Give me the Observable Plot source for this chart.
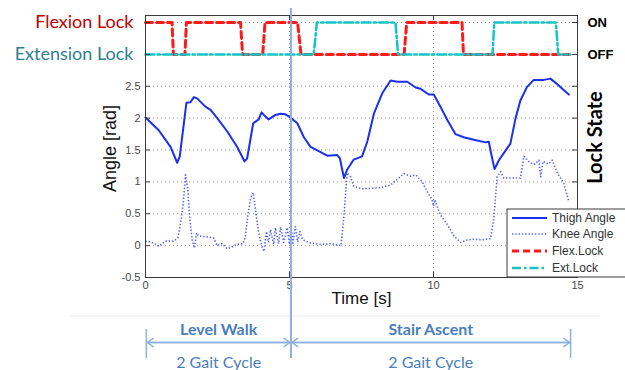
<!DOCTYPE html>
<html><head><meta charset="utf-8">
<script src="https://cdn.jsdelivr.net/npm/d3@7"></script>
<script src="https://cdn.jsdelivr.net/npm/@observablehq/plot@0.6"></script>
<style>body{margin:0;background:#fff} svg{display:block}</style>
</head><body><div id="chart"></div>
<script>
// ---- data ----
const thighT = [0,0.46,0.87,1.10,1.19,1.42,1.56,1.68,1.79,2.08,2.26,2.49,2.84,3.18,3.44,3.53,3.74,3.93,4.03,4.11,4.28,4.51,4.69,4.86,5.03,5.27,5.50,5.73,5.90,6.31,6.66,6.75,6.89,7.00,7.23,7.52,7.70,7.93,8.22,8.51,8.74,9.09,9.38,9.55,9.84,10.01,10.24,10.48,10.76,11.05,11.40,11.81,11.92,12.00,12.12,12.27,12.44,12.67,12.85,13.02,13.25,13.48,13.83,14.06,14.30,14.52,14.70];
const thighAngle = [2.01,1.81,1.55,1.30,1.40,2.24,2.25,2.33,2.31,2.18,2.13,2.00,1.79,1.55,1.32,1.37,1.92,1.98,2.09,2.05,1.98,2.05,2.07,2.06,2.01,1.92,1.70,1.55,1.51,1.41,1.42,1.37,1.06,1.19,1.35,1.40,1.63,2.07,2.39,2.59,2.57,2.57,2.48,2.46,2.37,2.37,2.18,1.97,1.75,1.70,1.66,1.62,1.63,1.45,1.20,1.34,1.45,1.60,2.00,2.28,2.49,2.60,2.60,2.62,2.53,2.44,2.37];
const kneeT = [0,0.06,0.29,0.46,0.69,0.98,1.12,1.22,1.31,1.39,1.47,1.54,1.62,1.70,1.77,1.85,2.08,2.37,2.49,2.66,2.84,3.01,3.18,3.39,3.47,3.55,3.65,3.74,3.82,3.93,4.03,4.11,4.20,4.27,4.34,4.45,4.51,4.62,4.69,4.80,4.92,5.00,5.06,5.12,5.20,5.28,5.36,5.45,5.55,5.73,6.08,6.42,6.79,6.89,7.00,7.12,7.23,7.52,8.16,8.51,8.74,8.97,9.20,9.38,9.61,9.78,9.95,10.00,10.05,10.12,10.24,10.48,10.71,10.94,11.17,11.40,11.69,11.98,12.09,12.21,12.33,12.44,13.02,13.14,13.31,13.48,13.66,13.72,13.80,14.00,14.12,14.30,14.52,14.70];
const kneeAngle = [0.06,0.07,0.04,-0.01,0.07,0.07,0.12,0.35,0.67,1.11,0.88,0.41,0.09,-0.04,0.20,0.15,0.14,0.12,0.00,0.03,-0.05,-0.02,0.02,0.03,0.15,0.46,0.75,0.83,0.56,0.20,0.00,-0.09,0.22,0.05,0.25,0.02,0.28,0.03,0.29,0.05,0.28,0.02,0.27,0.04,0.30,0.06,0.22,0.10,0.07,0.04,0.02,0.03,0.00,0.46,1.14,1.08,0.93,0.89,0.91,0.95,1.04,1.13,1.09,1.11,1.00,0.85,0.72,0.62,0.72,0.62,0.48,0.33,0.15,0.05,0.09,0.10,0.09,0.11,0.41,1.08,1.16,1.06,1.06,1.40,1.32,1.27,1.34,1.08,1.32,1.28,1.34,1.14,0.98,0.69];
const flexT = [0,0.92,0.97,1.37,1.42,3.30,3.37,4.07,4.15,5.28,5.40,8.98,9.07,10.99,11.04,14.69];
const flexState = [1,1,0,0,1,1,0,0,1,1,0,0,1,1,0,0];
const extT = [0,5.84,5.95,8.68,8.77,12.05,12.11,14.25,14.33,14.76];
const extState = [0,0,1,1,0,0,1,1,0,0];
const xTicks = [0,5,10,15];
const yTicks = [-0.5,0,0.5,1,1.5,2,2.5];
const lockTicks = [3,3.5];           // OFF, ON levels on the angle axis
const lockTickLabels = ["OFF","ON"];
const lockLabels = ["Flexion Lock","Extension Lock"];
const lockLabelLevel = [3.5,3];
const lockLabelColors = ["#c00000","#2f7f8c"];
const gridX = [5,10];
const gridY = [0,0.5,1,1.5,2,2.5,3,3.5];
const boundaryT = 5.05;
const phases = ["Level Walk","Stair Ascent"];
const phaseStart = [0.03,5.05];
const phaseEnd = [5.05,14.76];
const phaseNote = ["2 Gait Cycle","2 Gait Cycle"];
const seriesNames = ["Thigh Angle","Knee Angle","Flex.Lock","Ext.Lock"];

// ---- build tables ----
const thigh = thighT.map((t,i)=>({t, v: thighAngle[i]}));
const knee = kneeT.map((t,i)=>({t, v: kneeAngle[i]}));
const flex = flexT.map((t,i)=>({t, v: flexState[i] ? lockTicks[1] : lockTicks[0]}));
const ext = extT.map((t,i)=>({t, v: extState[i] ? lockTicks[1] : lockTicks[0]}));
const phaseRows = phases.map((p,i)=>({p, s: phaseStart[i], e: phaseEnd[i], m:(phaseStart[i]+phaseEnd[i])/2, note: phaseNote[i]}));
const yMin = -0.5, yMax = 3.61;

const W = 625, H = 370, mL = 145, mR = 48, mT = 15, mB = 93;
const fh = H - mT - mB, fw = W - mL - mR;

const C = {thigh:"#1a2ff0", knee:"#4b5cff", flex:"#ff1a1a", ext:"#14c4c4", grid:"#9a9a9a", axis:"#3a3a3a", anno:"#8fb0dc", annoText:"#4a7ebb"};

const plot = Plot.plot({
  width: W, height: H,
  marginLeft: mL, marginRight: mR, marginTop: mT, marginBottom: mB,
  x: {domain: [0,15], axis: null},
  y: {domain: [yMin, yMax], axis: null},
  style: {fontFamily: "'Liberation Sans', Arial, sans-serif", background: "#fff", overflow: "visible"},
  marks: [
    Plot.ruleY(gridY, {stroke: C.grid, strokeDasharray: "1,3", strokeWidth: 1}),
    Plot.ruleX(gridX, {stroke: C.grid, strokeDasharray: "1,3", strokeWidth: 1}),
    Plot.line(knee, {x:"t", y:"v", stroke: C.knee, strokeWidth: 1.6, strokeDasharray: "1.3,2", strokeLinecap:"butt"}),
    Plot.line(thigh, {x:"t", y:"v", stroke: C.thigh, strokeWidth: 2, curve: "linear"}),
    Plot.line(flex, {x:"t", y:"v", stroke: C.flex, strokeWidth: 3, strokeDasharray: "7,4"}),
    Plot.line(ext, {x:"t", y:"v", stroke: C.ext, strokeWidth: 2.5, strokeDasharray: "9,3,2.5,3"}),
    Plot.frame({stroke: C.axis, strokeWidth: 1}),
    // inward tick marks
    Plot.ruleX(xTicks, {stroke: C.axis, insetTop: fh - 5}),
    Plot.ruleX(xTicks, {stroke: C.axis, insetBottom: fh - 5}),
    Plot.ruleY(yTicks.concat(lockTicks), {stroke: C.axis, insetRight: fw - 5}),
    Plot.ruleY(yTicks.concat(lockTicks), {stroke: C.axis, insetLeft: fw - 5}),
    Plot.axisY(yTicks, {anchor: "left", tickSize: 0, tickPadding: 5, fontSize: 11, fill: "#4a4a4a", label: null, tickFormat: d => String(d)}),
    Plot.axisX(xTicks, {anchor: "bottom", tickSize: 0, tickPadding: 4, fontSize: 11, fill: "#4a4a4a", label: null, tickFormat: d => String(d)}),
    Plot.axisY(lockTicks, {anchor: "right", tickSize: 0, tickPadding: 10, fontSize: 13, fontWeight: "bold", fill: "#000", label: null, tickFormat: d => lockTickLabels[lockTicks.indexOf(d)]}),
    // axis titles
    Plot.text(["Time [s]"], {frameAnchor: "bottom", textAnchor: "middle", dy: 26, fontSize: 17, fill: "#111"}),
    Plot.text(["Angle [rad]"], {frameAnchor: "left", textAnchor: "middle", dx: -35, dy: 2, rotate: -90, fontSize: 18, fill: "#111"}),
    Plot.text(["Lock State"], {frameAnchor: "right", textAnchor: "middle", dx: 18, dy: -9, rotate: -90, fontSize: 20, fontWeight: "bold", fill: "#000", fontFamily: "Lato, 'Open Sans', sans-serif"}),
    // lock labels on the left
    Plot.text(lockLabels, {x: () => 0, y: (d,i) => lockLabelLevel[i], dx: -12, textAnchor: "end", fill: (d,i) => lockLabelColors[i], fontSize: 18, fontFamily: "Lato, 'Open Sans', sans-serif"}),
    // phase boundary
    Plot.ruleX([boundaryT], {stroke: C.anno, strokeWidth: 2, insetTop: -7, insetBottom: -81}),
    Plot.ruleX([phaseStart[0], phaseEnd[1]], {stroke: C.anno, strokeWidth: 1.5, insetTop: fh + 52, insetBottom: -81}),
    Plot.arrow(phaseRows, {x1: "s", x2: "e", y1: () => yMin, y2: () => yMin, dy: 65, stroke: C.anno, strokeWidth: 1.5, headLength: 7, headAngle: 70, insetEnd: 1}),
    Plot.arrow(phaseRows, {x1: "e", x2: "s", y1: () => yMin, y2: () => yMin, dy: 65, stroke: C.anno, strokeWidth: 1.5, headLength: 7, headAngle: 70, insetEnd: 1}),
    Plot.text(phaseRows, {x: "m", y: () => yMin, text: "p", dy: 52, fill: C.annoText, fontSize: 16, fontWeight: "bold", fontFamily: "Lato, 'Open Sans', sans-serif"}),
    Plot.text(phaseRows, {x: "m", y: () => yMin, text: "note", dy: 85, fill: C.annoText, fontSize: 16, fontFamily: "Lato, 'Open Sans', sans-serif"})
  ]
});

// legend
const svg = d3.select(plot);
svg.insert("line", ":first-child").attr("x1", 70).attr("x2", 600).attr("y1", 316).attr("y2", 316).attr("stroke", "#ececec");
const lg = svg.append("g").attr("transform", "translate(507,209)");
lg.append("rect").attr("width", 125).attr("height", 68).attr("fill", "#fff").attr("stroke", C.axis);
const styles = [
  {stroke: C.thigh, w: 2, dash: null},
  {stroke: C.knee, w: 1.6, dash: "1.3,2"},
  {stroke: C.flex, w: 3, dash: "7,4"},
  {stroke: C.ext, w: 2.5, dash: "9,3,2.5,3"}
];
const rowsY = [9, 25, 42, 59];
seriesNames.forEach((name, i) => {
  lg.append("line").attr("x1", 5).attr("x2", 40).attr("y1", rowsY[i]).attr("y2", rowsY[i])
    .attr("stroke", styles[i].stroke).attr("stroke-width", styles[i].w).attr("stroke-dasharray", styles[i].dash);
  lg.append("text").attr("x", 45).attr("y", rowsY[i]).attr("dy", "0.35em").attr("font-size", 12)
    .attr("text-anchor", "start")
    .attr("fill", "#333").attr("font-family", "'Liberation Sans', Arial, sans-serif").text(name);
});

document.getElementById("chart").appendChild(plot);
</script></body></html>
